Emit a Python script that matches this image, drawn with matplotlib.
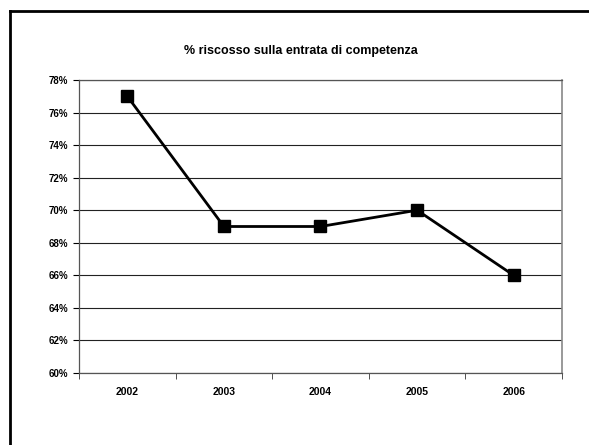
import matplotlib.pyplot as plt
from matplotlib.ticker import FuncFormatter

anni = ['2002', '2003', '2004', '2005', '2006']
riscosso = [77, 69, 69, 70, 66]
y_ticks = [60, 62, 64, 66, 68, 70, 72, 74, 76, 78]

plt.rcParams['font.family'] = ['Liberation Sans', 'DejaVu Sans']

fig = plt.figure(figsize=(5.89, 4.45), dpi=100)
ax = fig.add_axes([79 / 589, 1 - 373 / 445, 483 / 589, 293 / 445])

# cornice esterna (solo lati superiore e sinistro visibili)
fig.add_artist(plt.Line2D([10 / 589, 1.0], [1 - 10.5 / 445] * 2, color='black', lw=2, transform=fig.transFigure))
fig.add_artist(plt.Line2D([10 / 589] * 2, [0.0, 1 - 10.5 / 445], color='black', lw=2, transform=fig.transFigure))

x = range(len(anni))
ax.plot(x, riscosso, color='black', lw=2, marker='s', markersize=8.5, zorder=3)

ax.set_xlim(-0.5, len(anni) - 0.5)
ax.set_ylim(60, 78)
ax.set_yticks(y_ticks)
ax.yaxis.set_major_formatter(FuncFormatter(lambda v, p: '%d%%' % v))
ax.set_xticks(list(x))
ax.set_xticklabels(anni)
ax.set_xticks([i + 0.5 for i in range(-1, len(anni))], minor=True)
ax.tick_params(axis='x', which='major', length=0, pad=10, labelsize=7.5)
ax.tick_params(axis='x', which='minor', length=4, direction='out', color='#333333')
ax.tick_params(axis='y', length=4, direction='out', labelsize=7, pad=4)
for lbl in ax.get_xticklabels() + ax.get_yticklabels():
    lbl.set_fontweight('bold')

ax.grid(axis='y', color='#222222', lw=0.8)
for s in ax.spines.values():
    s.set_color('#555555')
    s.set_linewidth(0.9)
ax.spines['right'].set_color('#888888')
ax.spines['right'].set_linewidth(1.2)

fig.text(0.51, 1 - 51 / 445, '% riscosso sulla entrata di competenza', ha='center', va='center',
         fontsize=9, fontweight='bold')

plt.savefig('out.png', dpi=100)
